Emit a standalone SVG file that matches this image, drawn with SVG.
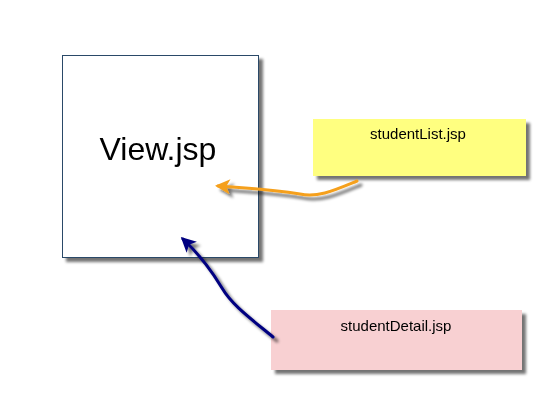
<svg xmlns="http://www.w3.org/2000/svg" width="544" height="409" viewBox="0 0 544 409">
<defs>
<filter id="sh" x="-10%" y="-10%" width="130%" height="130%">
<feGaussianBlur in="SourceAlpha" stdDeviation="1.8"/>
<feOffset dx="4" dy="4" result="b"/>
<feComponentTransfer><feFuncA type="linear" slope="0.55"/></feComponentTransfer>
<feMerge><feMergeNode/><feMergeNode in="SourceGraphic"/></feMerge>
</filter>
<marker id="ao" viewBox="0 0 10 10" refX="8" refY="5" markerWidth="5.5" markerHeight="5" orient="auto" markerUnits="strokeWidth">
<path d="M0,0 L10,5 L0,10 L2.5,5 Z" fill="#f5a01e"/>
</marker>
<marker id="an" viewBox="0 0 10 10" refX="8" refY="5" markerWidth="5.5" markerHeight="5" orient="auto" markerUnits="strokeWidth">
<path d="M0,0 L10,5 L0,10 L2.5,5 Z" fill="#000080"/>
</marker>
</defs>
<style>
text{font-family:"Liberation Sans",Arial,sans-serif;fill:#000;text-anchor:middle}
.lbl{font-size:15px}
</style>
<rect width="544" height="409" fill="#fff"/>
<g id="view" filter="url(#sh)">
<rect x="62.5" y="55.5" width="196" height="202" fill="#fff" stroke="#2c4868" stroke-width="1"/>
<text x="158" y="160" style="font-size:32px">View.jsp</text>
</g>
<g id="studentList" filter="url(#sh)">
<rect x="313" y="119" width="213" height="57" fill="#ffff80"/>
<text class="lbl" x="418" y="139">studentList.jsp</text>
</g>
<g id="studentDetail" filter="url(#sh)">
<rect x="271" y="310" width="251" height="60" fill="#f8d0d2"/>
<text class="lbl" x="396" y="331">studentDetail.jsp</text>
</g>
<g id="connectors" fill="none" stroke-width="3" stroke-linecap="round" filter="url(#sh)">
<path d="M357,181 C335,190 318,198 300,194 C275,190 250,188 218,186" stroke="#f5a01e" marker-end="url(#ao)"/>
<path d="M273,337 C250,318 232,305 222,288 C210,268 200,255 183,239" stroke="#000080" marker-end="url(#an)"/>
</g>
</svg>
